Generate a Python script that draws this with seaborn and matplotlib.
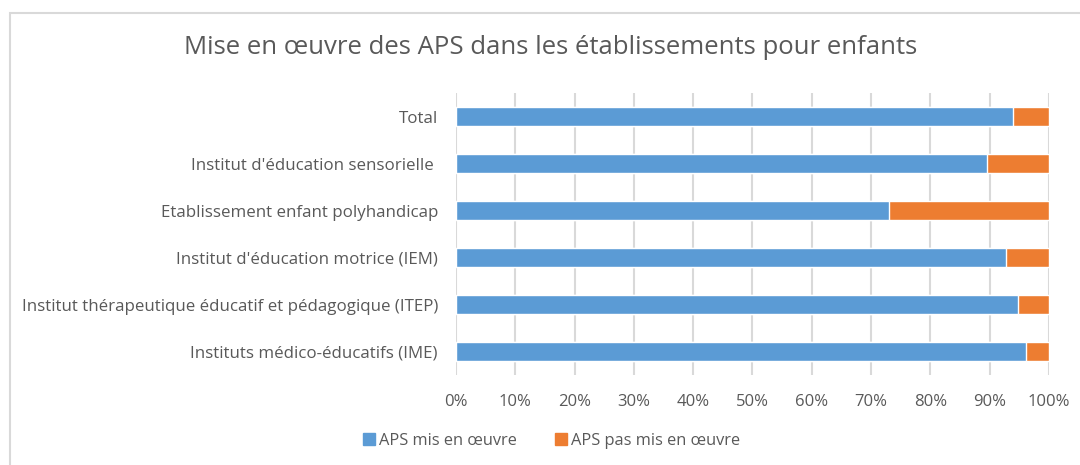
import matplotlib
matplotlib.use("Agg")
import matplotlib.pyplot as plt
import matplotlib.patches as mpatches
from matplotlib.lines import Line2D
from matplotlib.ticker import PercentFormatter
import pandas as pd
import seaborn as sns

categories = [
    "Total",
    "Institut d'éducation sensorielle ",
    "Etablissement enfant polyhandicap",
    "Institut d'éducation motrice (IEM)",
    "Institut thérapeutique éducatif et pédagogique (ITEP)",
    "Instituts médico-éducatifs (IME)",
]
mis_en_oeuvre = [94.0, 89.6, 73.1, 92.8, 94.7, 96.1]
pas_mis_en_oeuvre = [6.0, 10.4, 26.9, 7.2, 5.3, 3.9]
series_names = ["APS mis en œuvre", "APS pas mis en œuvre"]

blue = "#5b9bd5"
orange = "#ed7d31"
grey_text = "#595959"

df = pd.DataFrame({
    "categorie": categories,
    "mis": mis_en_oeuvre,
    "pas_mis": pas_mis_en_oeuvre,
})
df["cumul"] = df["mis"] + df["pas_mis"]

sns.set_style("white")
plt.rcParams["font.family"] = ["Open Sans", "DejaVu Sans"]

fig = plt.figure(figsize=(10.8, 4.65), dpi=100)
ax = fig.add_axes([0.4222, 0.1935, 0.5491, 0.6065])

# stacked bars: the cumulated total first, then the first series over it
sns.barplot(data=df, x="cumul", y="categorie", color=orange, width=0.39,
            orient="h", ax=ax, saturation=1, zorder=3)
sns.barplot(data=df, x="mis", y="categorie", color=blue, width=0.39,
            orient="h", ax=ax, saturation=1, zorder=4)

ax.set_xlim(0, 100)
ax.set_ylim(5.5, -0.5)
ax.set_xticks(range(0, 101, 10))
ax.xaxis.set_major_formatter(PercentFormatter(decimals=0))
ax.grid(axis="x", color="#d9d9d9", linewidth=1.5, zorder=0)
ax.grid(axis="y", visible=False)
for s in ax.spines.values():
    s.set_visible(False)
ax.set_xlabel("")
ax.set_ylabel("")
ax.tick_params(axis="x", length=0, pad=14, labelsize=12, labelcolor=grey_text)
ax.tick_params(axis="y", length=0, pad=13, labelsize=12.2, labelcolor=grey_text)

fig.text(0.51, 0.897, "Mise en œuvre des APS dans les établissements pour enfants",
         ha="center", va="center", fontsize=18.5, color=grey_text)

handles = [
    Line2D([], [], marker="s", linestyle="", markersize=8, color=blue),
    Line2D([], [], marker="s", linestyle="", markersize=8, color=orange),
]
fig.legend(handles, series_names, loc="center", bbox_to_anchor=(0.51, 0.052),
           ncol=2, frameon=False, fontsize=11.8, labelcolor=grey_text,
           handletextpad=0.1, columnspacing=2.2, handlelength=1.0)

# chart border, cut by the image edge like in the original screenshot
fig.patches.append(mpatches.Rectangle((10 / 1080, -0.1), 1.2, (465 - 13) / 465 + 0.1,
                                      transform=fig.transFigure, fill=False,
                                      edgecolor="#d9d9d9", linewidth=1.5))

fig.savefig("out.png", dpi=100)
